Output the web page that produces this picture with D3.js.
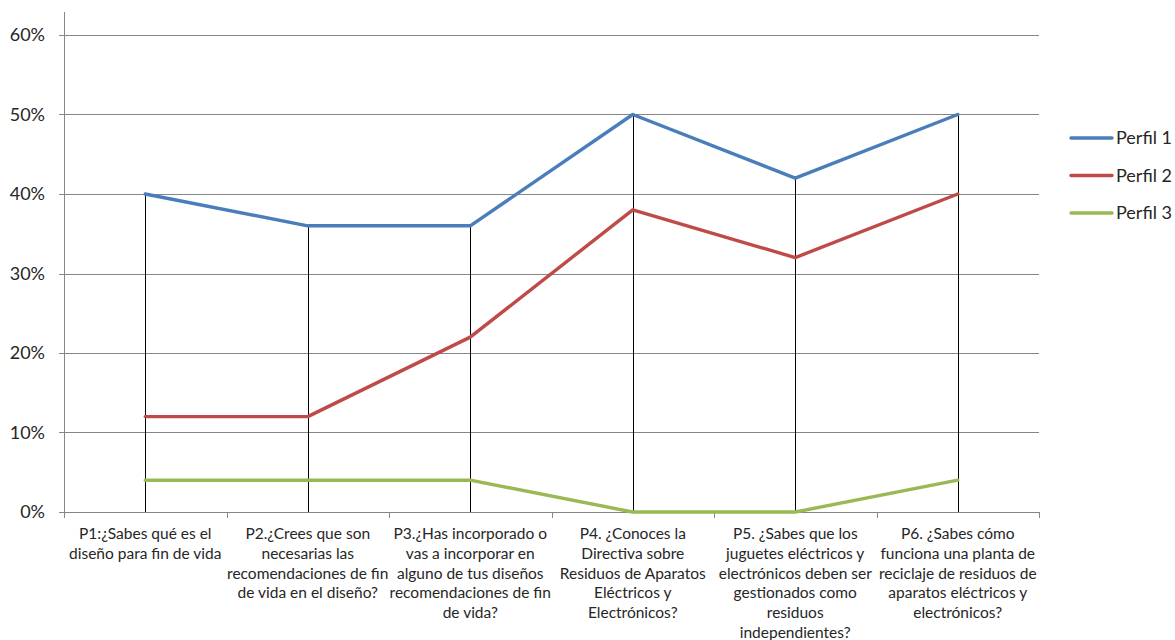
<!DOCTYPE html>
<html>
<head>
<meta charset="utf-8">
<script src="https://cdn.jsdelivr.net/npm/d3@7"></script>
<style>
  html, body { margin: 0; padding: 0; background: #fff; }
  svg { display: block; }
  text { font-family: Lato, "Open Sans", "DejaVu Sans", sans-serif; fill: #262626; }
</style>
</head>
<body>
<svg id="chart" width="1175" height="640"></svg>
<script>
// Question labels (each entry is one wrapped line of the category label)
const categories = [
  ["P1:¿Sabes qué es el", "diseño para fin de vida"],
  ["P2.¿Crees que son", "necesarias las", "recomendaciones de fin", "de vida en el diseño?"],
  ["P3.¿Has incorporado o", "vas a incorporar en", "alguno de tus diseños", "recomendaciones de fin", "de vida?"],
  ["P4. ¿Conoces la", "Directiva sobre", "Residuos de Aparatos", "Eléctricos y", "Electrónicos?"],
  ["P5. ¿Sabes que los", "juguetes eléctricos y", "electrónicos deben ser", "gestionados como", "residuos", "independientes?"],
  ["P6. ¿Sabes cómo", "funciona una planta de", "reciclaje de residuos de", "aparatos eléctricos y", "electrónicos?"]
];

const seriesNames = ["Perfil 1", "Perfil 2", "Perfil 3"];
const perfil1 = [0.40, 0.36, 0.36, 0.50, 0.42, 0.50];
const perfil2 = [0.12, 0.12, 0.22, 0.38, 0.32, 0.40];
const perfil3 = [0.04, 0.04, 0.04, 0.00, 0.00, 0.04];
const yTicks = [0, 0.1, 0.2, 0.3, 0.4, 0.5, 0.6];
const colors = ["#4a7ebb", "#be4b48", "#98b954"];

const series = [perfil1, perfil2, perfil3];

const svg = d3.select("#chart");
const plotLeft = 64, plotRight = 1039, plotTop = 35, plotBottom = 512;

const x = d3.scaleBand().domain(d3.range(categories.length)).range([plotLeft, plotRight]).paddingInner(0).paddingOuter(0);
const y = d3.scaleLinear().domain([0, 0.6]).range([plotBottom, plotTop]);
const cx = i => x(i) + x.bandwidth() / 2;

// horizontal gridlines with small ticks left of the axis
svg.append("g").selectAll("line").data(yTicks).join("line")
  .attr("x1", plotLeft - 5).attr("x2", plotRight)
  .attr("y1", d => Math.round(y(d)) + 0.5).attr("y2", d => Math.round(y(d)) + 0.5)
  .attr("stroke", "#868686").attr("stroke-width", 1);

// y axis line
svg.append("line")
  .attr("x1", plotLeft + 0.5).attr("x2", plotLeft + 0.5)
  .attr("y1", 12).attr("y2", plotBottom)
  .attr("stroke", "#868686");

// y tick labels
svg.append("g").selectAll("text").data(yTicks).join("text")
  .attr("x", plotLeft - 19).attr("y", d => y(d))
  .attr("dy", "0.35em").attr("text-anchor", "end")
  .style("font-size", "18px")
  .text(d => d3.format(".0%")(d));

// x category boundary ticks
const bounds = d3.range(categories.length + 1).map(i => i < categories.length ? x(i) : plotRight);
svg.append("g").selectAll("line").data(bounds).join("line")
  .attr("x1", d => Math.round(d) + 0.5).attr("x2", d => Math.round(d) + 0.5)
  .attr("y1", plotBottom).attr("y2", plotBottom + 6)
  .attr("stroke", "#868686");

// drop lines from the highest series to the baseline
svg.append("g").selectAll("line").data(categories.map((c, i) => i)).join("line")
  .attr("x1", i => Math.round(cx(i)) + 0.5).attr("x2", i => Math.round(cx(i)) + 0.5)
  .attr("y1", i => y(d3.max(series, s => s[i]))).attr("y2", plotBottom)
  .attr("stroke", "#000").attr("stroke-width", 1);

// series lines
const line = d3.line().x((d, i) => cx(i)).y(d => y(d));
svg.append("g").selectAll("path").data(series).join("path")
  .attr("d", d => line(d))
  .attr("fill", "none")
  .attr("stroke", (d, i) => colors[i])
  .attr("stroke-width", 3.4)
  .attr("stroke-linejoin", "round")
  .attr("stroke-linecap", "round");

// category labels
const lab = svg.append("g").selectAll("text").data(categories).join("text")
  .attr("text-anchor", "middle")
  .style("font-size", "15.5px");
lab.each(function (lines, i) {
  d3.select(this).selectAll("tspan").data(lines).join("tspan")
    .attr("x", cx(i))
    .attr("y", (l, j) => 539 + j * 19.8)
    .text(l => l);
});

// legend
const legend = svg.append("g").selectAll("g").data(seriesNames).join("g")
  .attr("transform", (d, i) => `translate(1071, ${138 + i * 37.5})`);
legend.append("line")
  .attr("x1", 0).attr("x2", 41).attr("y1", 0).attr("y2", 0)
  .attr("stroke", (d, i) => colors[i]).attr("stroke-width", 3.4)
  .attr("stroke-linecap", "round");
legend.append("text")
  .attr("x", 45).attr("y", 0).attr("dy", "0.35em")
  .style("font-size", "18px")
  .text(d => d);
</script>
</body>
</html>
